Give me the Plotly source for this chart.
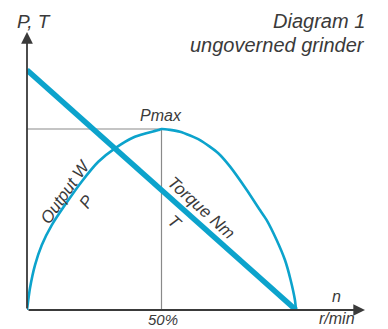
import plotly.graph_objects as go

# Data (speed in % of no-load speed, values in % of Pmax)
speed_pct = [0, 1.1, 3.0, 5.5, 9.2, 14.1, 20.3, 26.5, 32.7, 40.1, 48.8, 50,
             56.9, 64.3, 71.1, 75.5, 81.7, 86.6, 89.1, 92.8, 95.9, 98.0, 99.6, 100]
power = [0, 12.0, 24.9, 35.9, 46.9, 58.0, 70.9, 81.9, 89.3, 95.7, 99.4, 100,
         98.5, 93.9, 86.6, 79.2, 66.3, 55.2, 49.7, 38.7, 27.6, 16.6, 5.5, 0]
torque_speed = [0, 100]
torque = [132.6, 0]
pmax_speed = 50
pmax_value = 100

BLUE = "#0ca3cc"
DARK = "#3a3a3a"
GRAY = "#8a8a8a"
FONT = "Liberation Sans"

fig = go.Figure()

# reference lines to Pmax
fig.add_trace(go.Scatter(x=[0, pmax_speed, pmax_speed], y=[pmax_value, pmax_value, 0],
                         mode="lines", line=dict(color=GRAY, width=1.2),
                         hoverinfo="skip", showlegend=False))
# power curve
fig.add_trace(go.Scatter(x=speed_pct, y=power, mode="lines",
                         line=dict(color=BLUE, width=2.6, shape="spline", smoothing=0.6),
                         showlegend=False))
# torque line
fig.add_trace(go.Scatter(x=torque_speed, y=torque, mode="lines",
                         line=dict(color=BLUE, width=5.5), showlegend=False))

XMAX = 125.65
YMAX = 153.6

ann = []
# axes arrows
ann.append(dict(x=XMAX, y=0, ax=0, ay=0, xref="x", yref="y", axref="x", ayref="y",
                showarrow=True, arrowhead=2, arrowsize=1.3, arrowwidth=1.8, arrowcolor=DARK, text=""))
ann.append(dict(x=0, y=YMAX, ax=0, ay=0, xref="x", yref="y", axref="x", ayref="y",
                showarrow=True, arrowhead=2, arrowsize=1.3, arrowwidth=1.8, arrowcolor=DARK, text=""))

def lab(text, x, y, size=17, angle=0, xanchor="center", ref="data", pad=1):
    xr, yr = ("x", "y") if ref == "data" else ("paper", "paper")
    ann.append(dict(text=text, x=x, y=y, xref=xr, yref=yr, showarrow=False,
                    textangle=angle, xanchor=xanchor, yanchor="middle", borderpad=pad,
                    font=dict(family=FONT, size=size, color=DARK, style="italic")))

lab("P, T", 0.0207, 1.036, 19, ref="paper")
lab("Diagram 1", 1.006, 1.040, 20, xanchor="right", ref="paper")
lab("ungoverned grinder", 1.006, 0.955, 20, xanchor="right", ref="paper")
lab("Pmax", 49.8, 107.7, 16)
lab("Output W", 14.5, 65.2, 17, angle=-55)
lab("P", 22.3, 59.7, 17, angle=-55)
lab("Torque Nm", 64.7, 56.9, 17, angle=42)
lab("T", 55.0, 48.6, 17, angle=42)
lab("50%", 0.402, -0.033, 15, ref="paper", pad=0)
lab("n", 114.9, 7.7, 16)
lab("r/min", 0.917, -0.029, 16, ref="paper", pad=0)

fig.update_layout(
    width=380, height=321,
    margin=dict(l=19, r=23, t=24, b=19, autoexpand=False),
    paper_bgcolor="white", plot_bgcolor="white",
    xaxis=dict(range=[0, XMAX], visible=False, fixedrange=True),
    yaxis=dict(range=[0, YMAX], visible=False, fixedrange=True),
    annotations=ann,
    showlegend=False,
)

fig.write_html("out.html", config={"displayModeBar": False})
